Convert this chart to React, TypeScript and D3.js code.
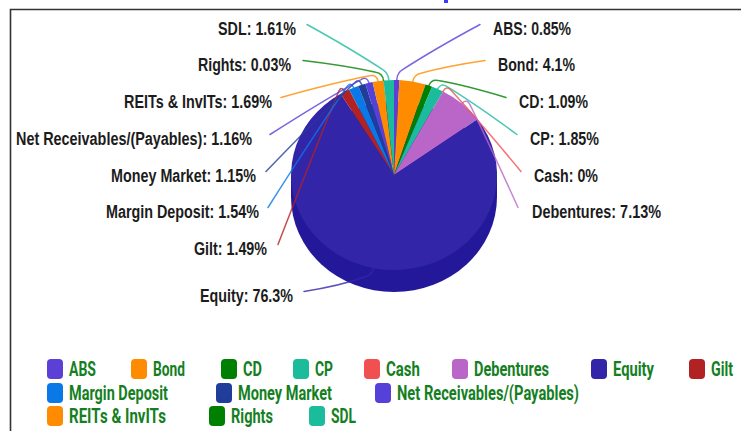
import React from "react";
import * as d3 from "d3";

const categories = ["ABS","Bond","CD","CP","Cash","Debentures","Equity","Gilt","Margin Deposit","Money Market","Net Receivables/(Payables)","REITs & InvITs","Rights","SDL"];
const values = [0.85,4.1,1.09,1.85,0,7.13,76.3,1.49,1.54,1.15,1.16,1.69,0.03,1.61];
const valueLabels = ["0.85%","4.1%","1.09%","1.85%","0%","7.13%","76.3%","1.49%","1.54%","1.15%","1.16%","1.69%","0.03%","1.61%"];
const colors = ["#5b3fd6","#ff8c00","#008000","#1abc9c","#f05050","#b966c8","#3325a8","#b22222","#0a78e6","#1f3d99","#5540d8","#ff8c00","#008000","#1abc9c"];

// layout per category, same order as categories
const labelStart = [493,498,519,530,534,532,200,194,106,111,16,124,198,218];
const labelWidth = [78,77,69,69,64,129,93,73,153,145,236,148,93,78];
const labelY = [29,65,102,139,176,212,296,249,212,176,139,102,65,29];
const lineEndX = [480,485,506,517,521,518,304,278,268,266,270,281,303,307];
const legendRow = [0,0,0,0,0,0,0,0,1,1,1,2,2,2];
const legendSwatchX = [47,131,221,293,364,452,591,689,47,216,375,47,209,309];
const legendTextW = [27,32,19,18,34,75,41,22,99,94,182,97,42,25];
const legendRowY = [369,393,416];
const legendSqueeze = 0.62;

const cx = 394, cy = 175, rx = 103, ry = 95, depth = 22;

export default function App() {
  const pie = d3.pie<number>().sort(null).startAngle(0).endAngle(2 * Math.PI);
  const arcs = pie(values);
  const arc = d3.arc<d3.PieArcDatum<number>>().innerRadius(0).outerRadius(1);
  const fullArc = d3.arc()({ innerRadius: 0, outerRadius: 1, startAngle: 0, endAngle: 2 * Math.PI }) as string;

  const connector = (a: d3.PieArcDatum<number>, i: number) => {
    const mid = (a.startAngle + a.endAngle) / 2;
    const pt = (k: number): [number, number] => [cx + rx * k * Math.sin(mid), cy - ry * k * Math.cos(mid)];
    const e = pt(1);
    const knee = pt(1.075);
    const lx = lineEndX[i], ly = labelY[i] - 4.5;
    const dx = lx - knee[0], dy = ly - knee[1];
    const len = Math.hypot(dx, dy);
    const t = Math.min(7, len / 2) / len;
    const p = d3.path();
    p.moveTo(lx, ly);
    const cpx = knee[0] + dx * 0.45;
    const cpy = knee[1] + dy * 0.45 + (i === 6 ? 3 : -2);
    p.quadraticCurveTo(cpx, cpy, knee[0] + dx * t, knee[1] + dy * t);
    p.quadraticCurveTo(knee[0], knee[1], e[0], e[1]);
    return p.toString();
  };

  return (
    <svg width={741} height={431} style={{ position: "absolute", left: 0, top: 0, background: "#fff" }}>
      <rect x={444} y={0} width={4} height={3} fill="#3a3aff" />
      <path d="M10.5 431V9.5H741" fill="none" stroke="#333" strokeWidth={1.6} />

      <g>
        <path d={fullArc} transform={`translate(${cx},${cy + depth}) scale(${rx},${ry})`} fill="#24189a" />
        <rect x={cx - rx} y={cy} width={2 * rx} height={depth} fill="#24189a" />
        {arcs.map((a, i) => (
          <path key={i} d={arc(a) as string} transform={`translate(${cx},${cy}) scale(${rx},${ry})`} fill={colors[i]} />
        ))}
      </g>

      <g fill="none" strokeWidth={1.5} strokeOpacity={0.8} strokeLinecap="round">
        {arcs.map((a, i) => (
          <path key={i} d={connector(a, i)} stroke={colors[i]} />
        ))}
      </g>

      <g fontFamily="'Liberation Sans', Arial, sans-serif" fontWeight={700} fontSize={18} fill="#1c1c1c">
        {categories.map((c, i) => (
          <text key={c} x={labelStart[i]} y={labelY[i]} dy="0.35em" textLength={labelWidth[i]} lengthAdjust="spacingAndGlyphs">
            {`${c}: ${valueLabels[i]}`}
          </text>
        ))}
      </g>

      <g fontFamily="Roboto, sans-serif" fontWeight={700} fontSize={21} fill="#157f1f">
        {categories.map((c, i) => (
          <g key={c}>
            <rect x={legendSwatchX[i]} y={legendRowY[legendRow[i]] - 10} width={16} height={20} rx={4} fill={colors[i]} />
            <text
              transform={`translate(${legendSwatchX[i] + 22},${legendRowY[legendRow[i]]}) scale(${legendSqueeze},1)`}
              dy="0.35em"
              textLength={legendTextW[i] / legendSqueeze}
              lengthAdjust="spacingAndGlyphs"
            >
              {c}
            </text>
          </g>
        ))}
      </g>
    </svg>
  );
}
